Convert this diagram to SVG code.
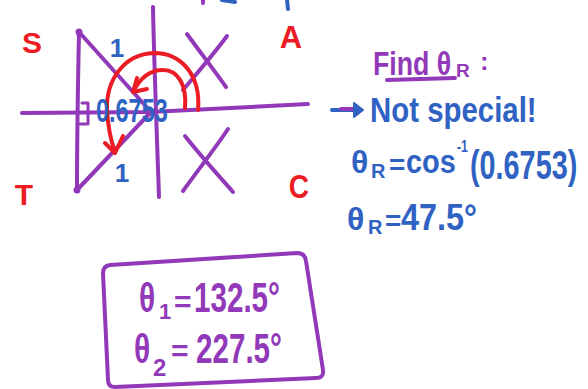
<svg xmlns="http://www.w3.org/2000/svg" width="588" height="389" viewBox="0 0 588 389">
<style>
.p{fill:none;stroke:#9139B8;stroke-width:4;stroke-linecap:round;stroke-linejoin:round}
.r{fill:none;stroke:#EC1C24;stroke-width:4;stroke-linecap:round;stroke-linejoin:round}
.b{fill:none;stroke:#2F62C2;stroke-width:4;stroke-linecap:round;stroke-linejoin:round}
text{font-family:"Liberation Sans",Arial,sans-serif;font-weight:bold}
.tb{fill:#2F62C2}
.tp{fill:#9139B8}
.tr{fill:#EC1C24}
</style>
<rect width="588" height="389" fill="#fff"/>
<g id="top-fragments">
<line class="p" x1="203" y1="0" x2="203" y2="3"/>
<line class="b" x1="222" y1="0" x2="235" y2="2"/>
<line class="b" x1="287" y1="0" x2="288" y2="9"/>
</g>
<g id="axes">
<path class="p" d="M22,113 L150,112 L308,104"/>
<path class="p" d="M153,7 C154,60 157,140 159,197"/>
</g>
<g id="triangle">
<path class="p" d="M79,32 C78,80 77,140 77,190"/>
<path class="p" d="M79,32 L151,112 L77,190"/>
<circle cx="79" cy="32" r="3.5" fill="#9139B8"/>
<circle cx="77" cy="190" r="3.5" fill="#9139B8"/>
<circle cx="152" cy="112" r="3.5" fill="#9139B8"/>
<path class="p" d="M82,103 L88,103 L88,124 L80,124" style="stroke-width:3"/>
</g>
<g id="crosses">
<path class="p" d="M187,34 C200,52 214,70 226,87"/>
<path class="p" d="M227,36 C213,55 198,72 183,90"/>
<path class="p" d="M185,136 C200,155 218,175 233,192"/>
<path class="p" d="M228,129 C214,150 198,170 183,191"/>
</g>
<g id="angle-arcs">
<path class="r" d="M198,110 C201,76 182,53 154,53 C124,54 106,80 107,110 C108,128 111,141 115,152"/>
<path class="r" d="M105,143 L115,153 L123,136"/>
<path class="r" d="M185,108 C187,85 178,70 163,70 C149,70 139,80 133,92"/>
<path class="r" d="M137,78 L133,92 L147,89"/>
</g>
<g id="quadrant-labels">
<text class="tr" x="32" y="53" font-size="30" text-anchor="middle">S</text>
<text class="tr" x="291" y="48" font-size="31" text-anchor="middle">A</text>
<text class="tr" x="24" y="205" font-size="30" text-anchor="middle">T</text>
<text class="tr" x="299" y="198" font-size="33" text-anchor="middle" transform="translate(299,0) scale(0.85,1) translate(-299,0)">C</text>
</g>
<g id="side-labels">
<text class="tb" x="117" y="57" font-size="26" text-anchor="middle">1</text>
<text class="tb" x="122" y="182" font-size="26" text-anchor="middle">1</text>
<text class="tb" font-size="34" transform="translate(96,122) scale(0.69,1)">0.6753</text>
</g>
<g id="find-heading">
<text class="tp" font-size="33" transform="translate(373,75) scale(0.81,1)">Find θ</text>
<text class="tp" x="456" y="77" font-size="19">R</text>
<text class="tp" x="480" y="70" font-size="26">:</text>
<path class="p" d="M387,80 L455,78"/>
</g>
<g id="not-special">
<line class="b" x1="332" y1="110" x2="356" y2="110"/>
<line class="p" x1="341" y1="109" x2="354" y2="109"/>
<path d="M354,103 L363,110 L354,117 Z" fill="#2F62C2" stroke="#2F62C2" stroke-width="2" stroke-linejoin="round"/>
<text class="tb" font-size="35" transform="translate(370,122) scale(0.84,1)">Not special!</text>
</g>
<g id="cos-line">
<text class="tb" x="351" y="173" font-size="32">θ</text>
<text class="tb" x="371" y="178" font-size="20">R</text>
<text class="tb" x="389" y="174" font-size="28">=</text>
<text class="tb" font-size="34" transform="translate(406,173) scale(0.85,1)">cos</text>
<text class="tb" font-size="17" transform="translate(457,152) scale(0.72,1)">-1</text>
<text class="tb" font-size="40" transform="translate(470,179) scale(0.72,1)">(0.6753)</text>
</g>
<g id="result-line">
<text class="tb" x="347" y="230" font-size="32">θ</text>
<text class="tb" x="368" y="234" font-size="20">R</text>
<text class="tb" x="385" y="230" font-size="28">=</text>
<text class="tb" font-size="37" transform="translate(401,230) scale(0.875,1)">47.5°</text>
</g>
<g id="answer-box">
<path class="p" d="M110,265 L297,253 Q305,253 306,261 L323,370 Q324,378 316,378 L115,387 Q108,387 108,380 L103,273 Q103,266 110,265 Z"/>
<text class="tp" font-size="40" transform="translate(139,312) scale(0.75,1)">θ</text>
<text class="tp" x="159" y="319" font-size="22">1</text>
<text class="tp" x="174" y="312" font-size="30">=</text>
<text class="tp" font-size="42" transform="translate(194,312) scale(0.705,1)">132.5°</text>
<text class="tp" font-size="40" transform="translate(134,363) scale(0.75,1)">θ</text>
<text class="tp" x="153" y="376" font-size="24">2</text>
<text class="tp" x="171" y="361" font-size="30">=</text>
<text class="tp" font-size="42" transform="translate(196,363) scale(0.705,1)">227.5°</text>
</g>
</svg>
